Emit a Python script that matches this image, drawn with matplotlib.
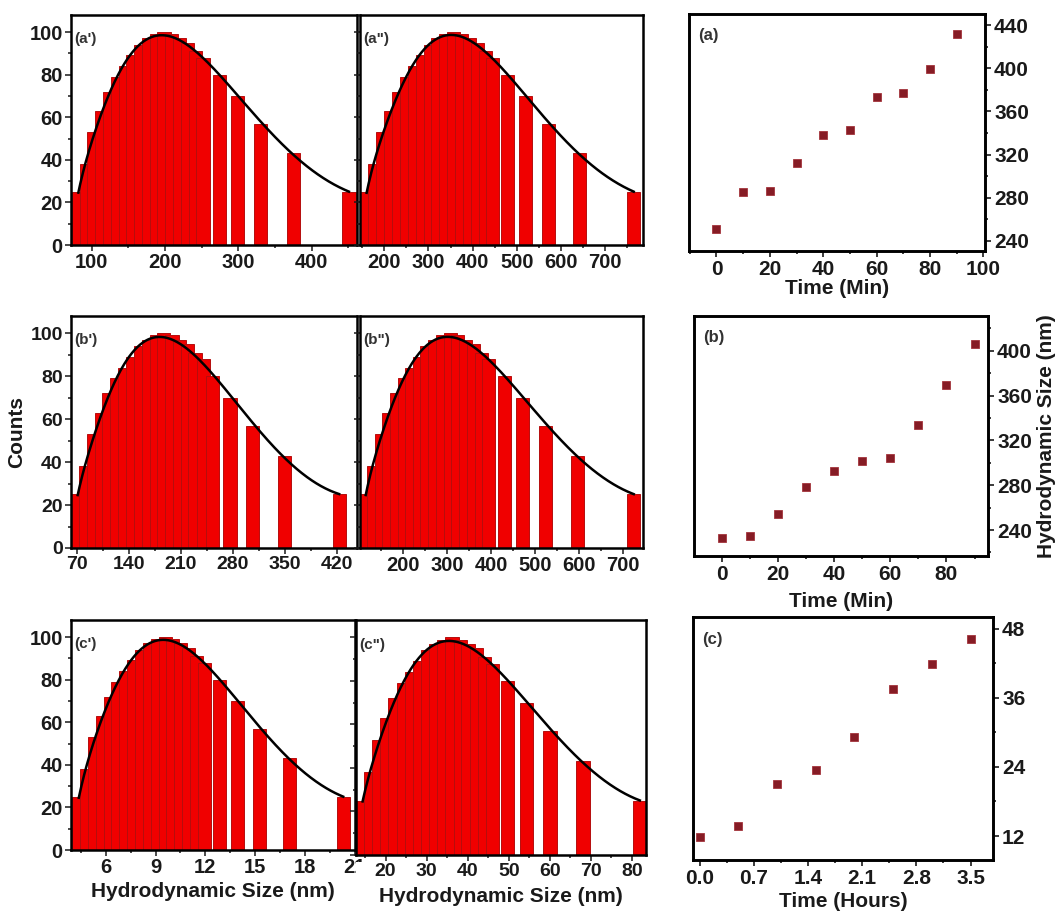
import numpy as np
import matplotlib
matplotlib.use("Agg")
import matplotlib.pyplot as plt
from matplotlib.patches import Rectangle
from matplotlib.ticker import MultipleLocator, FormatStrFormatter
from numpy.polynomial import Polynomial

plt.rcParams['font.family'] = ['Liberation Sans', 'DejaVu Sans']
plt.rcParams['font.weight'] = 'bold'
plt.rcParams['axes.labelweight'] = 'bold'

# ---------------- size distributions (DLS) ----------------
# relative counts per size bin (same profile for every sample)
counts = [25, 38, 53, 63, 72, 79, 84, 89, 94, 97, 99, 100, 99, 97, 95, 91, 88,
          80, 70, 57, 43, 25]

size_a1 = [82, 92.6, 103.3, 113.9, 124.5, 135.1, 145.8, 156.4, 167, 177.6, 188.3,
           198.9, 209.5, 220.1, 230.8, 241.4, 252, 275, 299, 330, 375, 451]
size_a2 = [160, 178, 196, 214, 232, 250, 268, 286, 304, 321, 339, 357, 375, 393,
           411, 429, 446, 478, 520, 571, 642, 765]
size_b1 = [71, 82, 92, 103, 113, 124, 134, 145, 156, 166, 177, 187, 198, 208, 219,
           229, 240, 253, 276, 306, 349, 423]
size_b2 = [115, 132, 150, 167, 185, 202, 220, 237, 254, 272, 289, 307, 324, 342,
           359, 377, 394, 430, 471, 524, 597, 724]
size_c1 = [4.37, 4.84, 5.32, 5.79, 6.26, 6.73, 7.21, 7.68, 8.15, 8.62, 9.10, 9.57,
           10.04, 10.51, 10.98, 11.46, 11.93, 12.88, 13.95, 15.24, 17.08, 20.31]
size_c2 = [14.4, 16.4, 18.4, 20.3, 22.3, 24.3, 26.3, 28.3, 30.2, 32.2, 34.2, 36.2,
           38.2, 40.1, 42.1, 44.1, 46.1, 49.7, 54.3, 60.0, 68.1, 81.9]

# ---------------- growth of hydrodynamic size ----------------
time_a = [0, 10, 20, 30, 40, 50, 60, 70, 80, 90]
hsize_a = [251, 285, 286, 312, 338, 343, 373, 377, 399, 432]
time_b = [0, 10, 20, 30, 40, 50, 60, 70, 80, 90]
hsize_b = [233, 235, 254, 278, 293, 302, 304, 334, 369, 406]
time_c = [0.0, 0.5, 1.0, 1.5, 2.0, 2.5, 3.0, 3.5]
hsize_c = [11.8, 13.7, 21.0, 23.4, 29.2, 37.5, 41.9, 46.1]

W, H = 1055, 913
fig = plt.figure(figsize=(W / 100, H / 100), dpi=100)
fig.patch.set_facecolor('white')

TXT = '#1a1a1a'
BAR = '#f00000'
BAR_EDGE = '#b50e0e'
MARK = '#861c25'
NARROW = ['Liberation Sans Narrow', 'Liberation Sans', 'DejaVu Sans']


def box(x0, y0, x1, y1):
    return fig.add_axes([x0 / W, 1 - y1 / H, (x1 - x0) / W, (y1 - y0) / H])


def style_labels(ax, size, family=None):
    for lab in ax.get_xticklabels() + ax.get_yticklabels():
        lab.set_fontweight('bold')
        lab.set_fontsize(size)
        if family:
            lab.set_fontfamily(family)


def hist_panel(ax, sizes, xlim, major, minor, tag, show_ylabels, lsize=14.5, family=None):
    span = xlim[1] - xlim[0]
    ax.bar(sizes, counts, width=0.046 * span, color=BAR, edgecolor=BAR_EDGE,
           linewidth=0.7, zorder=2)
    # smooth least-squares fit through the bar tops (polynomial in log-size),
    # each bin weighted by the log-size interval it covers
    lx = np.log(np.asarray(sizes, float))
    fit = Polynomial.fit(lx, np.asarray(counts, float), 6, w=np.gradient(lx))
    xs = np.linspace(sizes[0], sizes[-1], 400)
    ax.plot(xs, fit(np.log(xs)), color='black', lw=1.8, zorder=3)
    ax.set_xlim(*xlim)
    ax.set_ylim(0, 108)
    ax.xaxis.set_major_locator(MultipleLocator(major))
    ax.xaxis.set_minor_locator(MultipleLocator(minor))
    ax.yaxis.set_major_locator(MultipleLocator(20))
    ax.yaxis.set_minor_locator(MultipleLocator(10))
    ax.tick_params(which='both', direction='out', top=False, right=False,
                   width=1.1, colors=TXT, pad=2)
    ax.tick_params(which='major', length=4)
    ax.tick_params(which='minor', length=2.5)
    ax.tick_params(axis='y', labelleft=show_ylabels)
    style_labels(ax, lsize, family)
    for s in ax.spines.values():
        s.set_linewidth(1.8)
        s.set_color('black')
    ax.text(0.012, 0.925, tag, transform=ax.transAxes, ha='left', va='top',
            fontsize=11, fontweight='bold', color='#333333', zorder=4)


def growth_panel(ax, t, s, xlim, ylim, xmaj, xmin, ymaj, ymin, tag, xfmt=None):
    ax.plot(t, s, linestyle='none', marker='s', markersize=6, color=MARK,
            markeredgecolor='#a3343c', markeredgewidth=0.6, zorder=3)
    ax.set_xlim(*xlim)
    ax.set_ylim(*ylim)
    ax.xaxis.set_major_locator(MultipleLocator(xmaj))
    ax.xaxis.set_minor_locator(MultipleLocator(xmin))
    ax.yaxis.set_major_locator(MultipleLocator(ymaj))
    ax.yaxis.set_minor_locator(MultipleLocator(ymin))
    if xfmt:
        ax.xaxis.set_major_formatter(FormatStrFormatter(xfmt))
    ax.yaxis.tick_right()
    ax.tick_params(which='both', direction='out', top=False, left=False,
                   labelleft=False, right=True, labelright=True,
                   width=1.2, colors=TXT, pad=2)
    ax.tick_params(which='major', length=4.5)
    ax.tick_params(which='minor', length=2.5)
    style_labels(ax, 15)
    for sp in ax.spines.values():
        sp.set_linewidth(2.1)
        sp.set_color('black')
    ax.text(0.03, 0.94, tag, transform=ax.transAxes, ha='left', va='top',
            fontsize=12, fontweight='bold', color='#333333')


# row 1
ax_a1 = box(71, 15, 357, 245)
hist_panel(ax_a1, size_a1, (72, 462), 100, 50, "(a')", True)
ax_a2 = box(360, 15, 643, 245)
hist_panel(ax_a2, size_a2, (145, 786), 100, 50, '(a")', False, 14.5, NARROW)

# row 2
ax_b1 = box(71, 316, 357, 548)
hist_panel(ax_b1, size_b1, (62, 447), 70, 35, "(b')", True, 14)
ax_b1.set_ylabel('Counts', fontsize=15, color=TXT, labelpad=3)
ax_b2 = box(360, 316, 643, 548)
hist_panel(ax_b2, size_b2, (102, 745), 100, 50, '(b")', False, 14.5, NARROW)

# row 3
ax_c1 = box(71, 620, 355, 850)
hist_panel(ax_c1, size_c1, (3.9, 21.02), 3, 1.5, "(c')", True)
ax_c1.set_xlabel('Hydrodynamic Size (nm)', fontsize=15, color=TXT, labelpad=3)
ax_c2 = box(356, 620, 646, 855)
hist_panel(ax_c2, size_c2, (12.8, 83.4), 10, 5, '(c")', False, 14)
ax_c2.set_xlabel('Hydrodynamic Size (nm)', fontsize=15, color=TXT, labelpad=5)

# the neighbouring panel hides the last digit of the "21" label
fig.add_artist(Rectangle((356 / W, 1 - 882 / H), 16 / W, 20 / H,
                         transform=fig.transFigure, facecolor='white',
                         edgecolor='none', zorder=5))

# right column
ax_a = box(689, 14, 985, 251)
growth_panel(ax_a, time_a, hsize_a, (-10.3, 100.6), (230.7, 450.2), 20, 10, 40, 20, '(a)')
ax_a.set_xlabel('Time (Min)', fontsize=15, color=TXT, labelpad=0)

ax_b = box(694, 316, 988, 556)
growth_panel(ax_b, time_b, hsize_b, (-9.9, 94.8), (216.8, 431), 20, 10, 40, 20, '(b)')
ax_b.set_xlabel('Time (Min)', fontsize=15, color=TXT, labelpad=6)
ax_b.yaxis.set_label_position('right')
ax_b.set_ylabel('Hydrodynamic Size (nm)', fontsize=15, color=TXT, labelpad=4)

ax_c = box(693, 617, 993, 860)
growth_panel(ax_c, time_c, hsize_c, (-0.085, 3.79), (7.84, 50), 0.7, 0.35, 12, 6, '(c)', xfmt='%.1f')
ax_c.set_xlabel('Time (Hours)', fontsize=15, color=TXT, labelpad=3)

fig.savefig('out.png', dpi=100, facecolor='white')
